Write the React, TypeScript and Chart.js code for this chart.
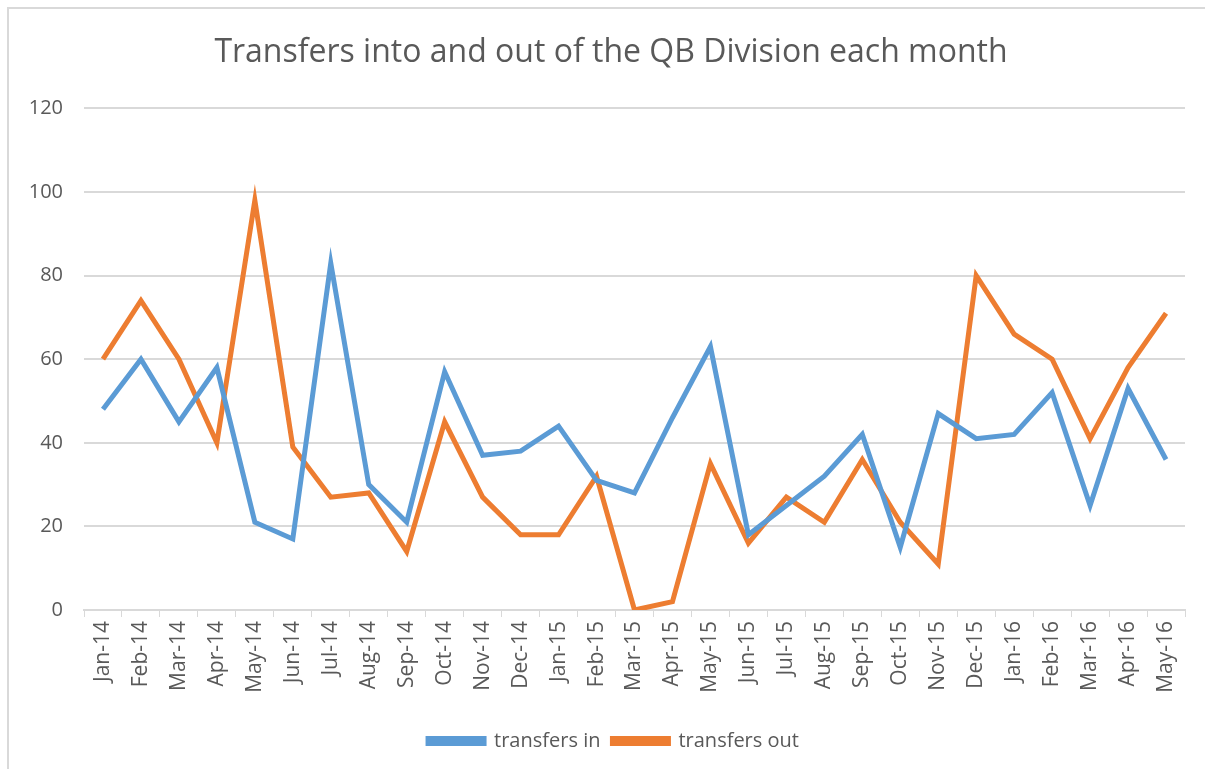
import React, { useEffect, useRef } from "react";
import { Chart, registerables } from "chart.js";

Chart.register(...registerables);

const months = [
  "Jan-14", "Feb-14", "Mar-14", "Apr-14", "May-14", "Jun-14", "Jul-14", "Aug-14", "Sep-14", "Oct-14", "Nov-14", "Dec-14",
  "Jan-15", "Feb-15", "Mar-15", "Apr-15", "May-15", "Jun-15", "Jul-15", "Aug-15", "Sep-15", "Oct-15", "Nov-15", "Dec-15",
  "Jan-16", "Feb-16", "Mar-16", "Apr-16", "May-16",
];

const transfersIn = [48, 60, 45, 58, 21, 17, 83, 30, 21, 57, 37, 38, 44, 31, 28, 46, 63, 18, 25, 32, 42, 15, 47, 41, 42, 52, 25, 53, 36];
const transfersOut = [60, 74, 60, 40, 98, 39, 27, 28, 14, 45, 27, 18, 18, 32, 0, 2, 35, 16, 27, 21, 36, 21, 11, 80, 66, 60, 41, 58, 71];

const yMin = 0;
const yMax = 120;
const yStep = 20;

const FONT = "'Open Sans', Lato, sans-serif";
const TEXT = "#595959";
const GRID = "#D9D9D9";

const centerShift = {
  id: "centerShift",
  afterLayout(chart: any) {
    if (chart.titleBlock) chart.titleBlock.left = 37;
    if (chart.legend) chart.legend.left = 42;
  },
};

export default function App() {
  const ref = useRef<HTMLCanvasElement | null>(null);

  useEffect(() => {
    if (!ref.current) return;
    const chart = new Chart(ref.current, {
      type: "line",
      data: {
        labels: months,
        datasets: [
          {
            label: "transfers in",
            data: transfersIn,
            borderColor: "#5B9BD5",
            backgroundColor: "#5B9BD5",
            borderWidth: 5,
            pointRadius: 0,
            tension: 0,
          },
          {
            label: "transfers out",
            data: transfersOut,
            borderColor: "#ED7D31",
            backgroundColor: "#ED7D31",
            borderWidth: 5,
            pointRadius: 0,
            tension: 0,
          },
        ],
      },
      plugins: [centerShift],
      options: {
        animation: false,
        responsive: false,
        layout: { padding: { left: 0, right: 20, top: 0, bottom: 8 } },
        plugins: {
          title: {
            display: true,
            text: "Transfers into and out of the QB Division each month",
            color: TEXT,
            font: { family: FONT, size: 32, weight: "normal" as any, lineHeight: 1.2 },
            padding: { top: 34, bottom: 36 },
          },
          legend: {
            position: "bottom",
            labels: {
              color: TEXT,
              font: { family: FONT, size: 20 },
              boxWidth: 56,
              boxHeight: 5,
              padding: 12,
            },
          },
          tooltip: { enabled: false },
        },
        scales: {
          x: {
            offset: true,
            afterFit: (scale: any) => {
              scale.height = 109;
            },
            grid: {
              display: true,
              drawOnChartArea: false,
              drawTicks: true,
              tickLength: 7,
              color: GRID,
              offset: true,
            },
            border: { display: true, color: GRID, width: 2 },
            ticks: {
              color: TEXT,
              font: { family: FONT, size: 21 },
              maxRotation: 90,
              minRotation: 90,
              autoSkip: false,
              padding: 4,
            },
          },
          y: {
            min: yMin,
            max: yMax,
            afterFit: (scale: any) => {
              scale.width = 84;
            },
            grid: { color: GRID, lineWidth: 2, drawTicks: false },
            border: { display: false },
            ticks: {
              stepSize: yStep,
              color: TEXT,
              font: { family: FONT, size: 20 },
              padding: 21,
            },
          },
        },
      },
    });
    return () => chart.destroy();
  }, []);

  return (
    <div style={{ position: "absolute", left: 0, top: 0, width: 1205, height: 769, background: "#fff" }}>
      <div
        style={{
          position: "absolute",
          left: 7,
          top: 7,
          width: 1205,
          height: 769,
          borderLeft: "2px solid #D9D9D9",
          borderTop: "2px solid #D9D9D9",
        }}
      />
      <canvas ref={ref} width={1205} height={769} style={{ position: "absolute", left: 0, top: 0 }} />
    </div>
  );
}
